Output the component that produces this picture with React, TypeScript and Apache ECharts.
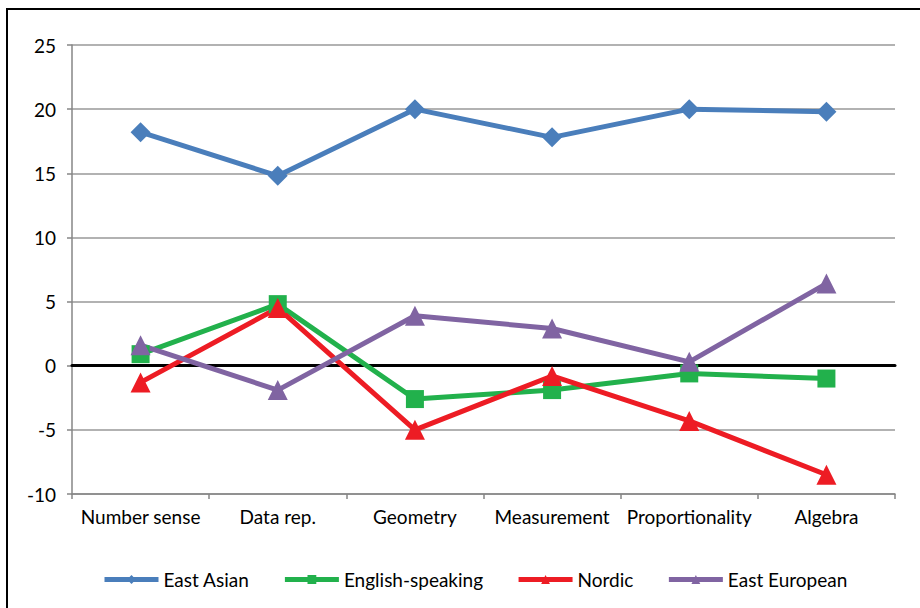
import React, { useEffect, useRef } from "react";
import * as echarts from "echarts";

const categories = ["Number sense", "Data rep.", "Geometry", "Measurement", "Proportionality", "Algebra"];
const eastAsian = [18.2, 14.8, 20.0, 17.8, 20.0, 19.8];
const englishSpeaking = [0.9, 4.8, -2.6, -1.9, -0.6, -1.0];
const nordic = [-1.3, 4.5, -5.0, -0.8, -4.3, -8.5];
const eastEuropean = [1.6, -1.9, 3.9, 2.9, 0.3, 6.4];
const seriesNames = ["East Asian", "English-speaking", "Nordic", "East European"];
const yTicks = { min: -10, max: 25, interval: 5 };

const FONT = "Lato";

export default function App() {
  const ref = useRef<HTMLDivElement>(null);
  useEffect(() => {
    document.body.style.margin = "0";
    const chart = echarts.init(ref.current!, null, { renderer: "svg" });
    const mk = (name: string, data: number[], color: string, symbol: string, size: number) => ({
      name,
      type: "line",
      data,
      symbol,
      symbolSize: size,
      showSymbol: true,
      z: 3,
      itemStyle: { color },
      lineStyle: { color, width: 5 },
    });
    chart.setOption({
      animation: false,
      backgroundColor: "#ffffff",
      graphic: [
        {
          type: "rect",
          shape: { x: 7, y: 9, width: 940, height: 640 },
          style: { fill: "none", stroke: "#000", lineWidth: 2 },
          silent: true,
          z: -1,
        },
      ],
      grid: { left: 72, right: 25, top: 45, bottom: 114, containLabel: false },
      legend: {
        left: 97,
        top: 565,
        itemWidth: 54,
        itemHeight: 11,
        itemGap: 33,
        data: seriesNames,
        lineStyle: { width: 5 },
        textStyle: { fontFamily: FONT, fontSize: 19, color: "#000" },
      },
      xAxis: [
        {
          type: "category",
          data: categories,
          boundaryGap: true,
          axisLine: { onZero: false, lineStyle: { color: "#868686", width: 1.5 } },
          axisTick: { show: true, length: 5, lineStyle: { color: "#868686", width: 1.5 } },
          axisLabel: { fontFamily: FONT, fontSize: 19, color: "#000", margin: 13, interval: 0 },
          splitLine: { show: false },
        },
        {
          type: "category",
          data: categories,
          position: "top",
          axisLine: { show: true, onZero: true, lineStyle: { color: "#000", width: 3 } },
          axisTick: { show: false },
          axisLabel: { show: false },
          splitLine: { show: false },
          z: 1,
        },
      ],
      yAxis: {
        type: "value",
        min: yTicks.min,
        max: yTicks.max,
        interval: yTicks.interval,
        axisLine: { show: true, lineStyle: { color: "#868686", width: 1.5 } },
        axisTick: { show: true, length: 5, lineStyle: { color: "#868686", width: 1.5 } },
        axisLabel: { fontFamily: FONT, fontSize: 19, color: "#000", margin: 16 },
        splitLine: { show: true, lineStyle: { color: "#999999", width: 1.5 } },
      },
      series: [
        mk(seriesNames[0], eastAsian, "#4A7EBB", "diamond", 20),
        mk(seriesNames[1], englishSpeaking, "#22B14C", "rect", 18),
        mk(seriesNames[2], nordic, "#ED1C24", "triangle", 20),
        mk(seriesNames[3], eastEuropean, "#8064A2", "triangle", 20),
      ],
    });
    return () => chart.dispose();
  }, []);
  return <div ref={ref} style={{ width: 920, height: 608 }} />;
}
